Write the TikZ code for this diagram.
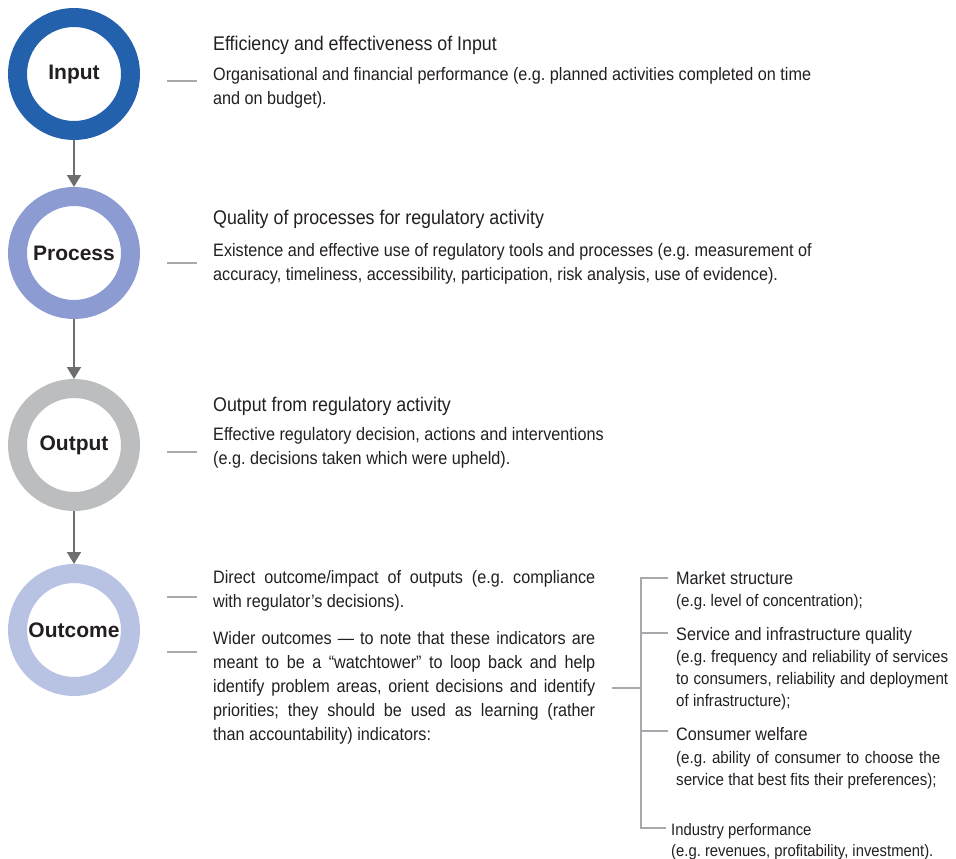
\documentclass[tikz,border=0pt]{standalone}
\usepackage{fontspec}
\setmainfont[FakeStretch=0.9]{Liberation Sans}
\newfontfamily\labfont{Liberation Sans}
\usetikzlibrary{arrows.meta}
\definecolor{inputc}{HTML}{2461AC}
\definecolor{procc}{HTML}{8C9BD1}
\definecolor{outc}{HTML}{BCBDBF}
\definecolor{outcomec}{HTML}{B8C3E3}
\definecolor{arrowc}{HTML}{6D6E70}
\definecolor{linec}{HTML}{A7A9AC}
\definecolor{txt}{HTML}{231F20}
\frenchspacing
\begin{document}
\begin{tikzpicture}[x=1pt,y=-1pt,
  ring/.style={circle, line width=19pt, minimum size=113pt, inner sep=0pt, fill=white,
    font=\labfont\bfseries\fontsize{21}{24}\selectfont, text=txt},
  flow/.style={draw=arrowc, line width=1.8pt, -{Triangle[width=14pt,length=12pt]}},
  tick/.style={draw=linec, line width=1.1pt},
  hd/.style={anchor=base west, inner sep=0pt, text=txt, font=\fontsize{19.8}{24}\selectfont},
  bd/.style={anchor=base west, inner sep=0pt, text=txt, align=left, font=\fontsize{18}{24}\selectfont},
  sub/.style={anchor=base west, inner sep=0pt, text=txt, font=\fontsize{18}{22}\selectfont},
  det/.style={anchor=base west, inner sep=0pt, text=txt, align=left, font=\fontsize{16.8}{22}\selectfont},
  ind/.style={anchor=base west, inner sep=0pt, text=txt, align=left, font=\fontsize{16.5}{21}\selectfont}
]
\path[use as bounding box] (0,0) rectangle (956,859);

% circles
\node[ring, draw=inputc] (in) at (74,74) {Input};
\node[ring, draw=procc] (pr) at (74,253) {Process};
\node[ring, draw=outc] (op) at (74,445) {Output};
\node[ring, draw=outcomec] (oc) at (74,630) {Outcome};

\draw[flow] (in) -- (pr);
\draw[flow] (pr) -- (op);
\draw[flow] (op) -- (oc);

% (multi-line nodes are anchored at the baseline of their last line)
% Input texts
\node[hd] (inh) at (213,51) {Efficiency and effectiveness of Input};
\node[bd] (inb) at (213,104) {Organisational and financial performance (e.g. planned activities completed on time\\and on budget).};
\coordinate (d1a) at (167,81); \coordinate (d1b) at (197,81);
\draw[tick] (d1a) -- (d1b);

% Process texts
\node[hd] (prh) at (213,224) {Quality of processes for regulatory activity};
\node[bd] (prb) at (213,280) {Existence and effective use of regulatory tools and processes (e.g. measurement of\\accuracy, timeliness, accessibility, participation, risk analysis, use of evidence).};
\coordinate (d2a) at (167,263); \coordinate (d2b) at (197,263);
\draw[tick] (d2a) -- (d2b);

% Output texts
\node[hd] (oph) at (213,411) {Output from regulatory activity};
\node[bd] (opb) at (213,464) {Effective regulatory decision, actions and interventions\\(e.g. decisions taken which were upheld).};
\coordinate (d3a) at (167,452); \coordinate (d3b) at (197,452);
\draw[tick] (d3a) -- (d3b);

% Outcome texts
\node[bd] (ocd) at (213,607) {\makebox[382pt][s]{Direct outcome/impact of outputs (e.g. compliance}\\with regulator’s decisions).};
\coordinate (d4a) at (167,597); \coordinate (d4b) at (197,597);
\draw[tick] (d4a) -- (d4b);
\node[bd] (ocw) at (213,740) {\makebox[382pt][s]{Wider outcomes — to note that these indicators are}\\
\makebox[382pt][s]{meant to be a “watchtower” to loop back and help}\\
\makebox[382pt][s]{identify problem areas, orient decisions and identify}\\
\makebox[382pt][s]{priorities; they should be used as learning (rather}\\
than accountability) indicators:};
\coordinate (d5a) at (167,652); \coordinate (d5b) at (197,652);
\draw[tick] (d5a) -- (d5b);

% bracket
\coordinate (bl) at (612,688);
\coordinate (bm) at (641,688);
\coordinate (bt) at (641,578);
\coordinate (bb) at (641,828);
\coordinate (t1) at (668,578);
\coordinate (t2) at (668,633);
\coordinate (t3) at (668,731);
\coordinate (t4) at (666,828);
\draw[tick] (bl) -- (bm);
\draw[tick] (t1) -- (bt) -- (bb) -- (t4);
\draw[tick] (bm |- t2) -- (t2);
\draw[tick] (bm |- t3) -- (t3);

% right texts
\node[sub] (ms) at (676,584) {Market structure};
\node[det] (msd) at (676,606) {(e.g. level of concentration);};
\node[sub] (sq) at (676,640) {Service and infrastructure quality};
\node[det] (sqd) at (676,706) {\makebox[272pt][s]{(e.g. frequency and reliability of services}\\
\makebox[272pt][s]{to consumers, reliability and deployment}\\
of infrastructure);};
\node[sub] (cw) at (676,740) {Consumer welfare};
\node[det] (cwd) at (676,785) {\makebox[264pt][s]{(e.g. ability of consumer to choose the}\\
service that best fits their preferences);};
\node[ind] (ip) at (671,856) {Industry performance\\(e.g. revenues, profitability, investment).};
\end{tikzpicture}
\end{document}
